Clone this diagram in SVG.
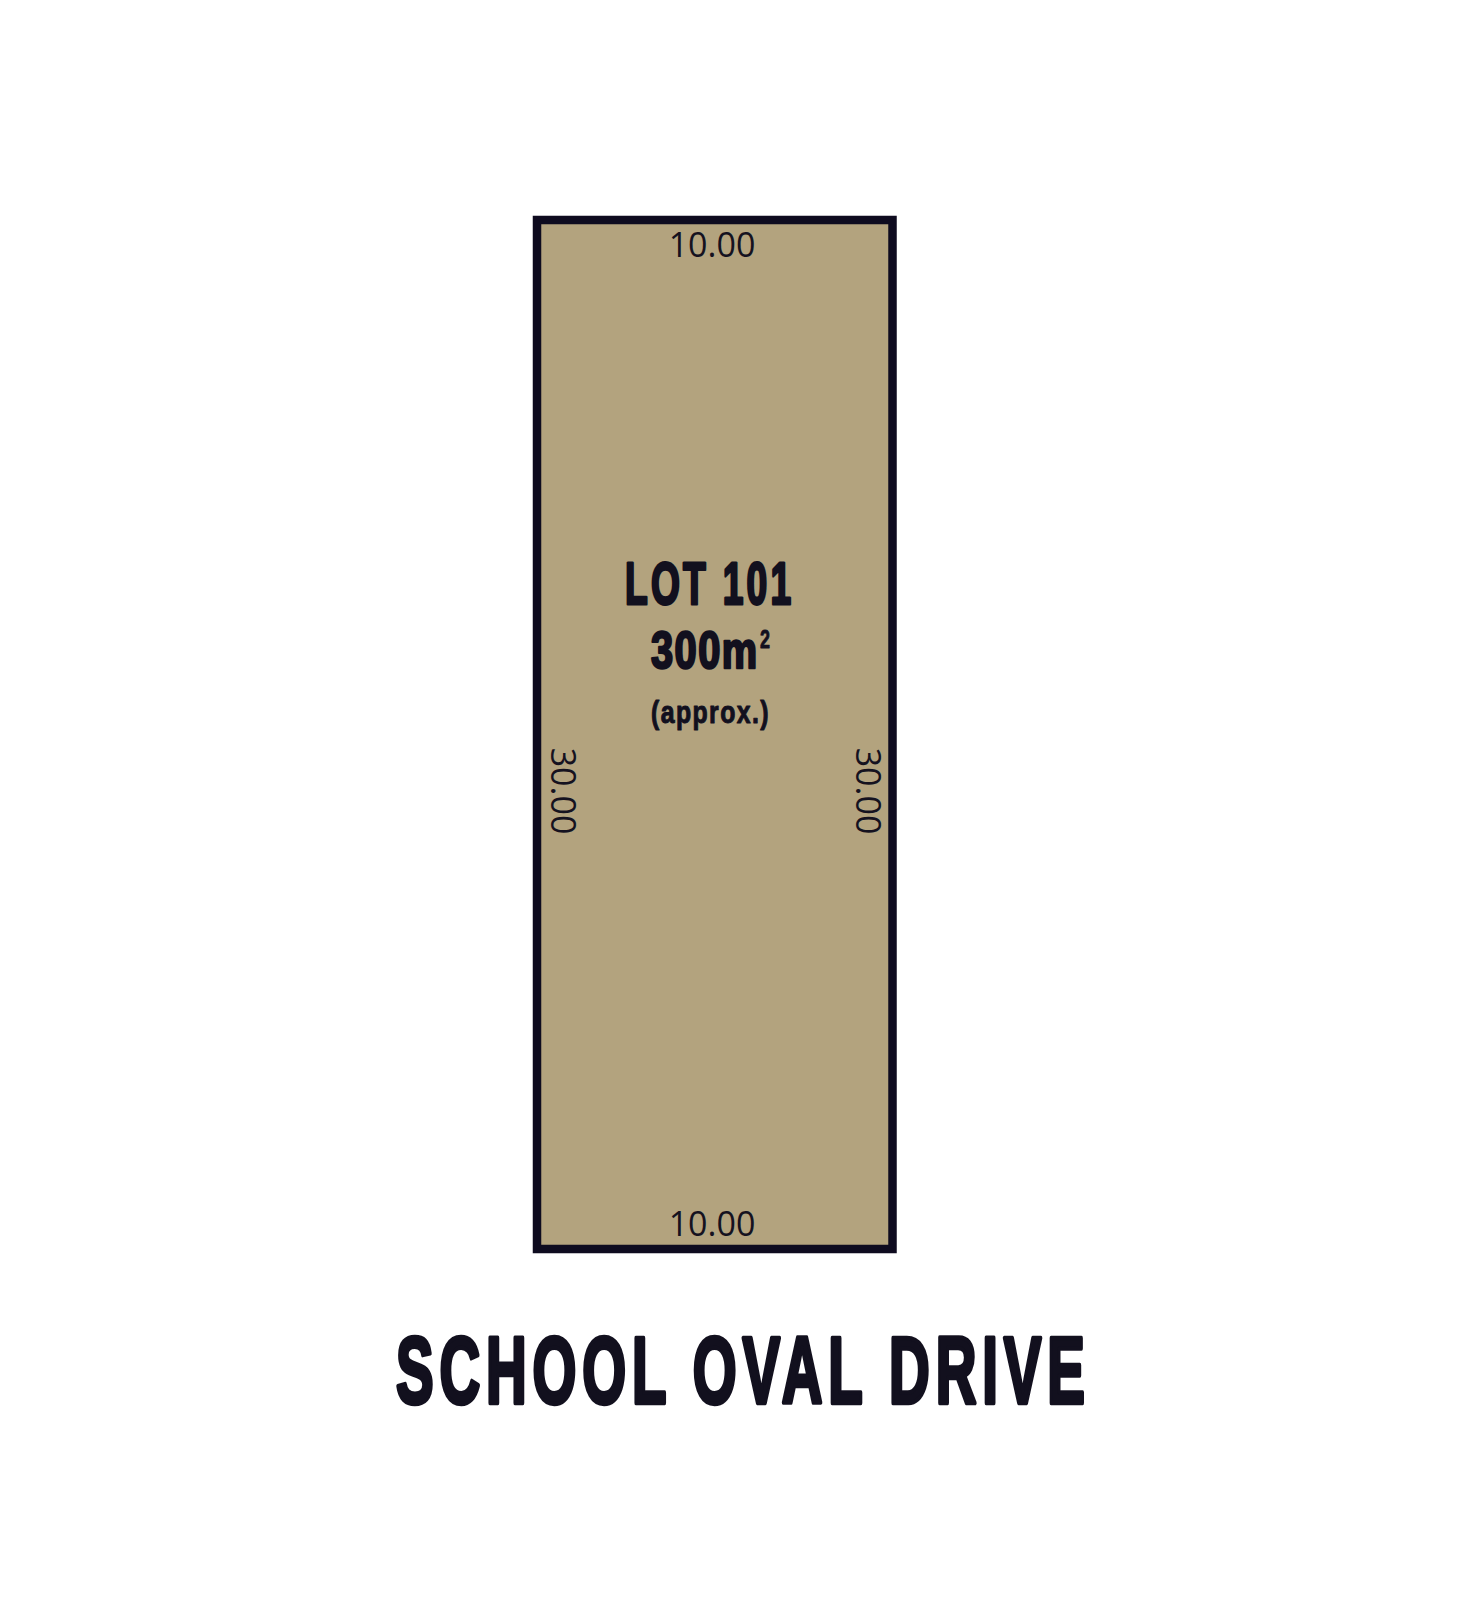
<svg xmlns="http://www.w3.org/2000/svg" width="1472" height="1613" viewBox="0 0 1472 1613">
  <style>
    .dim { font-family: "Open Sans", "Noto Sans", sans-serif; font-size: 34px; fill: #15121f; }
    .bold { font-family: "Liberation Sans", Arial, sans-serif; font-weight: 700; fill: #12101e; stroke: #12101e; stroke-linejoin: round; }
  </style>
  <rect width="1472" height="1613" fill="#ffffff"/>
  <g id="lot-101">
    <rect x="537" y="220" width="355.5" height="1029" fill="#b3a37e" stroke="#0e0b1f" stroke-width="8.5"/>
    <text class="bold" transform="translate(625 604) scale(0.62 1)" x="0" y="0" font-size="60" stroke-width="3" textLength="268" lengthAdjust="spacing">LOT 101</text>
    <text class="bold" transform="translate(651 668) scale(0.78 1)" x="0" y="0" font-size="51" stroke-width="2.5" textLength="136" lengthAdjust="spacing">300m</text>
    <text class="bold" x="760" y="648" font-size="25" stroke-width="0.8" textLength="10" lengthAdjust="spacingAndGlyphs">2</text>
    <text class="bold" transform="translate(651 723) scale(0.8 1)" x="0" y="0" font-size="31" stroke-width="1" textLength="147" lengthAdjust="spacing">(approx.)</text>
  </g>
  <g id="dimensions">
    <text class="dim" x="712" y="257" text-anchor="middle">10.00</text>
    <text class="dim" x="712" y="1236" text-anchor="middle">10.00</text>
    <text class="dim" text-anchor="middle" transform="translate(551 791) rotate(90)">30.00</text>
    <text class="dim" text-anchor="middle" transform="translate(856 791) rotate(90)">30.00</text>
  </g>
  <g id="street">
    <text class="bold" transform="translate(396 1403) scale(0.6 1)" x="0" y="0" font-size="94" stroke-width="4.5" textLength="1148" lengthAdjust="spacing">SCHOOL OVAL DRIVE</text>
  </g>
</svg>
